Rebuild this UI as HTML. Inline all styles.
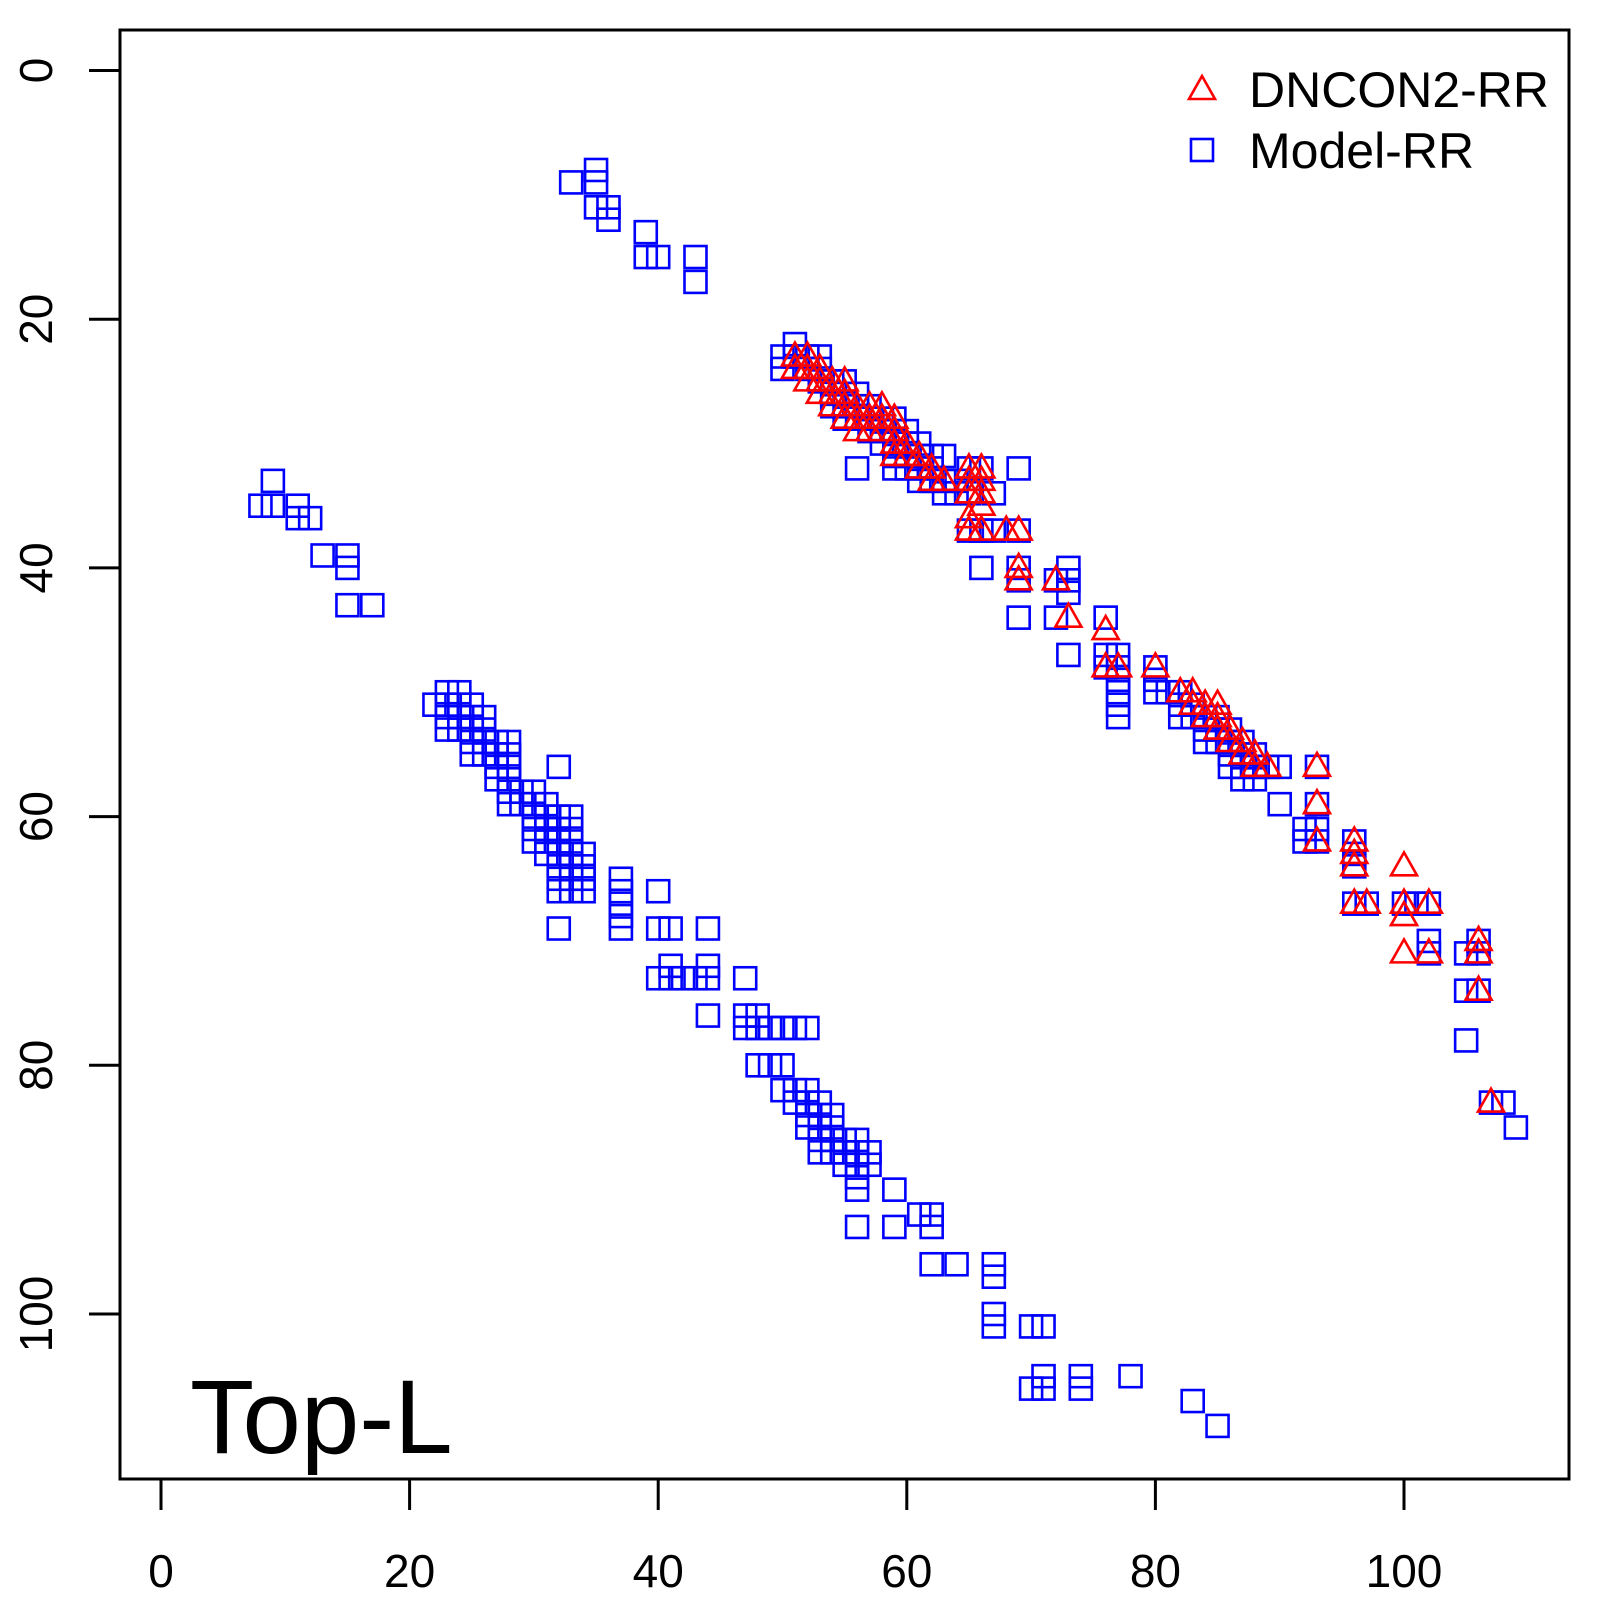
<!DOCTYPE html>
<html><head><meta charset="utf-8"><style>body{margin:0;background:#fff}svg{display:block}</style></head>
<body>
<svg id="s" width="1600" height="1600" xmlns="http://www.w3.org/2000/svg" font-family="Liberation Sans, sans-serif">
<rect x="120" y="30" width="1449" height="1449" fill="none" stroke="#000" stroke-width="3"/>
<g id="g"></g>
<text x="1249" y="107" font-size="50">DNCON2-RR</text>
<text x="1249" y="168" font-size="50">Model-RR</text>
<text x="190" y="1453" font-size="105">Top-L</text>
</svg>
<script>
var X=function(v){return 161+v*12.43},Y=function(v){return 70.5+v*12.435};
var g=document.getElementById('g'),h='';
for(var i=0;i<=100;i+=20){var x=X(i);h+='<line x1="'+x+'" y1="1479" x2="'+x+'" y2="1510" stroke="#000" stroke-width="3"/>';
h+='<text x="'+x+'" y="1587" font-size="46" text-anchor="middle">'+i+'</text>';
var y=Y(i);h+='<line x1="120" y1="'+y+'" x2="89" y2="'+y+'" stroke="#000" stroke-width="3"/>';
h+='<text transform="translate(52,'+y+') rotate(-90)" font-size="46" text-anchor="middle">'+i+'</text>';}
var sq=[[33,9],[35,8],[35,9],[35,11],[36,11],[36,12],[39,13],[39,15],[40,15],[43,15],[43,17],
[8,35],[9,33],[9,35],[11,35],[11,36],[12,36],[13,39],[15,39],[15,40],[15,43],[17,43],
[22,51],[23,50],[23,51],[23,52],[23,53],[24,50],[24,51],[24,52],[24,53],[25,51],[25,52],[25,53],[25,54],[25,55],[26,52],[26,53],[26,54],[26,55],[27,54],[27,55],[27,56],[27,57],[28,54],[28,55],[28,56],[28,57],[28,58],[28,59],[29,58],[29,59],[30,58],[30,59],[30,60],[30,61],[30,62],[31,59],[31,60],[31,61],[31,62],[31,63],[32,56],[32,60],[32,61],[32,62],[32,63],[32,64],[32,65],[32,66],[32,69],[33,60],[33,61],[33,62],[33,63],[33,64],[33,65],[33,66],[34,63],[34,64],[34,65],[34,66],
[37,65],[37,66],[37,67],[37,68],[37,69],[40,66],[40,69],[41,69],[41,72],[40,73],[41,73],[42,73],[43,73],[44,69],[44,72],[44,73],[44,76],[47,73],[47,76],[47,77],[48,76],[48,77],[48,80],[49,77],[49,80],[50,77],[50,80],[50,82],[51,77],[51,82],[51,83],[52,77],[52,82],[52,83],[52,84],[52,85],[53,83],[53,84],[53,85],[53,86],[53,87],[54,84],[54,85],[54,86],[54,87],[55,86],[55,87],[55,88],[56,86],[56,87],[56,88],[56,89],[56,90],[56,93],[57,87],[57,88],[59,90],[59,93],[61,92],[62,92],[62,93],[62,96],[64,96],[67,96],[67,97],[67,100],[67,101],[70,101],[71,101],[70,106],[71,105],[71,106],[74,105],[74,106],[78,105],[83,107],[85,109],
[50,23],[50,24],[51,22],[51,23],[52,23],[52,24],[53,23],[53,24],[53,25],[54,25],[54,26],[54,27],[55,25],[55,26],[55,27],[55,28],[56,26],[56,27],[56,28],[56,32],[57,27],[57,28],[57,29],[58,28],[58,29],[58,30],[59,28],[59,29],[59,30],[59,31],[59,32],[60,29],[60,30],[60,31],[60,32],[61,30],[61,31],[61,32],[61,33],[62,31],[62,32],[62,33],[63,31],[63,33],[63,34],[64,33],[64,34],[65,32],[65,34],[65,37],[66,32],[66,37],[66,40],[67,34],[67,37],[69,32],[69,37],[69,40],[69,41],[69,44],[72,41],[72,44],[73,40],[73,41],[73,42],[73,47],[76,44],[76,47],[76,48],[77,47],[77,48],[77,49],[77,50],[77,51],[77,52],[80,48],[80,49],[80,50],[81,50],[82,50],[82,51],[82,52],[83,51],[83,52],[84,52],[84,53],[84,54],[85,52],[85,53],[85,54],[86,53],[86,54],[86,55],[86,56],[87,54],[87,55],[87,56],[87,57],[88,55],[88,56],[88,57],[89,56],[90,56],[90,59],[92,61],[92,62],[93,56],[93,59],[93,61],[93,62],[96,62],[96,63],[96,64],[96,67],[97,67],[100,67],[101,67],[102,67],[102,70],[102,71],[105,71],[105,74],[105,78],[106,70],[106,71],[106,74],[107,83],[108,83],[109,85]];
var tr=[[51,23],[51,24],[52,23],[52,24],[52,25],[53,24],[53,25],[53,26],[54,25],[54,26],[54,27],[55,25],[55,26],[55,27],[55,28],[56,27],[56,28],[56,29],[57,27],[57,28],[57,29],[58,27],[58,28],[58,29],[59,28],[59,29],[59,30],[59,31],[60,30],[60,31],[61,31],[61,32],[62,32],[62,33],[63,33],[65,32],[65,33],[65,34],[65,36],[65,37],[66,32],[66,33],[66,34],[66,35],[66,37],[68,37],[69,37],[69,40],[69,41],[72,41],[73,44],[76,45],[76,48],[77,48],[80,48],[82,50],[83,50],[83,51],[84,51],[84,52],[85,51],[85,52],[85,53],[86,53],[86,54],[87,54],[87,55],[88,55],[88,56],[89,56],[93,56],[93,59],[93,62],[96,62],[96,63],[96,64],[96,67],[97,67],[100,64],[100,67],[100,68],[100,71],[102,67],[102,71],[106,70],[106,71],[106,74],[107,83]];
function S(x,y){return '<rect x="'+(x-11)+'" y="'+(y-11)+'" width="22" height="22" fill="none" stroke="#00f" stroke-width="2.6"/>';}
function T(x,y){return '<polygon points="'+x+','+(y-14)+' '+(x-13)+','+(y+9)+' '+(x+13)+','+(y+9)+'" fill="none" stroke="#f00" stroke-width="2.6"/>';}
sq.forEach(function(p){h+=S(X(p[0]),Y(p[1]));});
tr.forEach(function(p){h+=T(X(p[0]),Y(p[1]));});
h+=T(1202,90)+S(1202,150);
g.innerHTML=h;
</script>
</body></html>
